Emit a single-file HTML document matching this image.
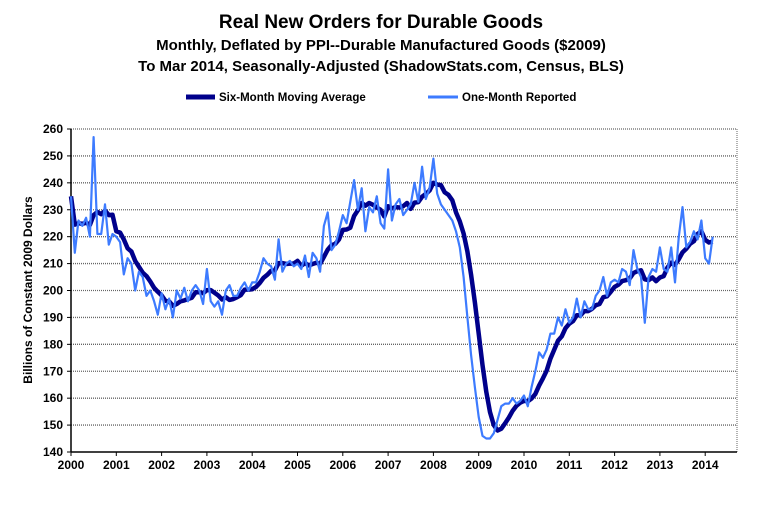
<!DOCTYPE html>
<html><head><meta charset="utf-8"><style>
body{margin:0;background:#fff;width:763px;height:500px;overflow:hidden;font-family:"Liberation Sans",Arial,sans-serif}
text{font-family:"Liberation Sans",Arial,sans-serif;font-weight:bold}
</style></head><body>
<svg id="s" width="763" height="500" xmlns="http://www.w3.org/2000/svg">
<text x="381" y="28" font-size="19" text-anchor="middle">Real New Orders for Durable Goods</text>
<text x="381" y="50" font-size="15" text-anchor="middle">Monthly, Deflated by PPI--Durable Manufactured Goods ($2009)</text>
<text x="381" y="71" font-size="15" text-anchor="middle">To Mar 2014, Seasonally-Adjusted  (ShadowStats.com, Census, BLS)</text>
<line x1="186" y1="97" x2="215" y2="97" stroke="#00008b" stroke-width="5"/>
<text x="219" y="101" font-size="11.5">Six-Month Moving Average</text>
<line x1="428" y1="97" x2="458" y2="97" stroke="#3d7bff" stroke-width="3"/>
<text x="462" y="101" font-size="11.5">One-Month Reported</text>
<text transform="translate(32,290) rotate(-90)" font-size="12" text-anchor="middle">Billions  of Constant 2009 Dollars</text>
<g id="g"></g>
</svg>
<script>
var g=document.getElementById('g'),h='';
var L=71,R=737,T=129,B=452;
function Y(v){return T+(260-v)*(B-T)/120}
function X(i){return L+i*45.3/12}
for(var v=140;v<=260;v+=10){var y=Y(v);
 if(v>140)h+='<line x1="'+L+'" y1="'+y+'" x2="'+R+'" y2="'+y+'" stroke="#666" stroke-width="1.3" stroke-dasharray="1,1"/>';
 h+='<line x1="'+(L-4)+'" y1="'+y+'" x2="'+L+'" y2="'+y+'" stroke="#000"/>';
 h+='<text x="'+(L-8)+'" y="'+(y+4)+'" font-size="12" text-anchor="end">'+v+'</text>';}
h+='<line x1="'+R+'" y1="'+T+'" x2="'+R+'" y2="'+B+'" stroke="#666" stroke-dasharray="1,1"/>';
h+='<line x1="'+L+'" y1="'+T+'" x2="'+L+'" y2="'+B+'" stroke="#000" stroke-width="1.5"/>';
h+='<line x1="'+L+'" y1="'+B+'" x2="'+R+'" y2="'+B+'" stroke="#000" stroke-width="1.5"/>';
for(var yr=0;yr<=14;yr++){var x=L+yr*45.3;
 h+='<line x1="'+x+'" y1="'+B+'" x2="'+x+'" y2="'+(B+4)+'" stroke="#000"/>';
 h+='<text x="'+x+'" y="'+(B+17)+'" font-size="12" text-anchor="middle">'+(2000+yr)+'</text>';}
var d=[235,214,226,224,227,220,257,221,221,232,217,221,
220,218,206,212,210,200,207,205,198,200,196,191,
199,193,197,190,200,197,201,196,200,202,200,195,
208,196,194,196,191,200,202,198,198,201,203,200,
203,203,207,212,210,209,204,219,207,210,211,209,
210,208,213,205,214,212,207,224,229,215,217,222,
228,225,233,241,230,238,222,231,229,235,225,223,
245,226,232,234,228,230,232,240,233,246,234,238,
249,236,232,230,228,226,222,216,205,190,176,164,
153,146,145,145,147,152,157,158,158,160,158,159,
161,157,164,170,177,175,178,184,184,190,187,193,
188,190,197,190,196,193,193,198,200,205,198,203,
204,203,208,207,202,215,208,205,188,205,208,207,
216,208,207,216,203,220,231,216,218,222,219,226,
212,210,220];
var p1='',p2='';
for(var i=0;i<d.length;i++){p1+=(i?'L':'M')+X(i).toFixed(1)+','+Y(d[i]).toFixed(1);
 var s=0,n=0;for(var j=Math.max(0,i-5);j<=i;j++){s+=d[j];n++}
 p2+=(i?'L':'M')+X(i).toFixed(1)+','+Y(s/n).toFixed(1);}
h+='<path d="'+p2+'" fill="none" stroke="#00008b" stroke-width="4.5" stroke-linejoin="round"/>';
h+='<path d="'+p1+'" fill="none" stroke="#3d7bff" stroke-width="2.2" stroke-linejoin="round"/>';
g.innerHTML=h;
</script>
</body></html>
